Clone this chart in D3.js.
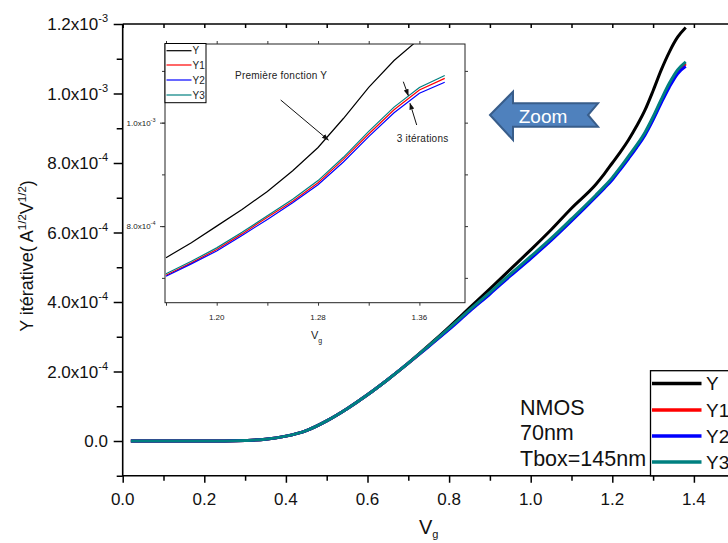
<!DOCTYPE html>
<html><head><meta charset="utf-8">
<script src="https://cdn.jsdelivr.net/npm/d3@7"></script>
<style>
body{margin:0;background:#fff}
svg{display:block}
text{font-family:"Liberation Sans",Arial,Helvetica,sans-serif}
</style>
</head><body>
<svg id="c" width="728" height="543"></svg>
<script>
// ---------- DATA ----------
const vg = [0.02,0.1,0.2,0.25,0.3,0.35,0.4,0.45,0.5,0.55,0.6,0.65,0.7,0.75,0.8,0.85,0.9,0.95,1.0,1.05,1.1,
            1.16,1.18,1.2,1.22,1.24,1.26,1.28,1.3,1.32,1.34,1.36,1.38];
const Y  = [0,0,0,2e-7,1.5e-6,5e-6,1.4e-5,3.0e-5,5.8e-5,9.3e-5,1.33e-4,1.77e-4,2.24e-4,2.75e-4,3.28e-4,3.83e-4,4.38e-4,4.94e-4,5.50e-4,6.08e-4,6.70e-4,
            7.39e-4,7.68e-4,8.00e-4,8.32e-4,8.67e-4,9.07e-4,9.52e-4,1.008e-3,1.068e-3,1.120e-3,1.162e-3,1.190e-3];
const Y1 = [0,0,0,2e-7,1.5e-6,5e-6,1.4e-5,3.0e-5,5.8e-5,9.3e-5,1.33e-4,1.77e-4,2.24e-4,2.73e-4,3.23e-4,3.75e-4,4.26e-4,4.78e-4,5.28e-4,5.80e-4,6.36e-4,
            7.05e-4,7.29e-4,7.55e-4,7.85e-4,8.17e-4,8.48e-4,8.84e-4,9.29e-4,9.78e-4,1.025e-3,1.063e-3,1.0855e-3];
const Y2 = [0,0,0,2e-7,1.5e-6,5e-6,1.4e-5,3.0e-5,5.8e-5,9.3e-5,1.33e-4,1.77e-4,2.24e-4,2.72e-4,3.21e-4,3.73e-4,4.23e-4,4.75e-4,5.25e-4,5.77e-4,6.33e-4,
            7.03e-4,7.27e-4,7.52e-4,7.82e-4,8.13e-4,8.45e-4,8.80e-4,9.24e-4,9.73e-4,1.019e-3,1.057e-3,1.078e-3];
const Y3 = [0,0,0,2e-7,1.5e-6,5e-6,1.4e-5,3.0e-5,5.8e-5,9.3e-5,1.33e-4,1.77e-4,2.24e-4,2.74e-4,3.25e-4,3.77e-4,4.28e-4,4.80e-4,5.31e-4,5.83e-4,6.39e-4,
            7.08e-4,7.32e-4,7.58e-4,7.88e-4,8.20e-4,8.52e-4,8.88e-4,9.33e-4,9.83e-4,1.030e-3,1.068e-3,1.091e-3];
const seriesNames = ["Y","Y1","Y2","Y3"];
const seriesColors = ["#000000","#ff0000","#0000ff","#008080"];

const xMajor = [0,0.2,0.4,0.6,0.8,1.0,1.2,1.4];
const xMinor = [0.1,0.3,0.5,0.7,0.9,1.1,1.3,1.5];
const xTickLabels = ["0.0","0.2","0.4","0.6","0.8","1.0","1.2","1.4"];
const yMajor = [0,2e-4,4e-4,6e-4,8e-4,1.0e-3,1.2e-3];
const yMinor = [-1e-4,1e-4,3e-4,5e-4,7e-4,9e-4,1.1e-3];
const yTickMant = ["0.0","2.0","4.0","6.0","8.0","1.0","1.2"];
const yTickExp  = ["","-4","-4","-4","-4","-3","-3"];

const insetXMajor = [1.20,1.28,1.36];
const insetXAll = [1.16,1.20,1.24,1.28,1.32,1.36];
const insetXLabels = ["1.20","1.28","1.36"];
const insetYMajor = [8e-4,1.0e-3];
const insetYAll = [7e-4,8e-4,9e-4,1.0e-3,1.1e-3];
const insetYMant = ["8.0","1.0"];
const insetYExp = ["-4","-3"];

const annoText = ["NMOS","70nm","Tbox=145nm"];

// ---------- SETUP ----------
const svg = d3.select("#c");
const series = [Y,Y1,Y2,Y3].map((vals,i)=>({name:seriesNames[i],color:seriesColors[i],
  pts:vg.map((v,j)=>[v,vals[j]])}));

const x = d3.scaleLinear().domain([0,1.5]).range([122.7,734.7]);
const y = d3.scaleLinear().domain([-1e-4,1.2e-3]).range([475.75,24]);

svg.append("clipPath").attr("id","mainclip").append("rect")
  .attr("x",x(0)).attr("y",y(1.2e-3)).attr("width",728).attr("height",y(-1e-4)-y(1.2e-3));

// main lines
const line = d3.line().x(d=>x(d[0])).y(d=>y(d[1])).curve(d3.curveMonotoneX);
const gl = svg.append("g").attr("clip-path","url(#mainclip)");
series.forEach(s=>{
  gl.append("path").attr("d",line(s.pts)).attr("fill","none")
    .attr("stroke",s.color).attr("stroke-width",3).attr("stroke-linejoin","round");
});

// axes
function styleAxis(g){ g.select(".domain").remove(); g.selectAll("line").attr("stroke","#000").attr("stroke-width",1.5); }
svg.append("g").attr("transform",`translate(${x(0)},0)`)
  .call(d3.axisLeft(y).tickValues(yMajor).tickSize(9).tickFormat("")).call(styleAxis);
svg.append("g").attr("transform",`translate(${x(0)},0)`)
  .call(d3.axisLeft(y).tickValues(yMinor).tickSize(6).tickFormat("")).call(styleAxis);
svg.append("g").attr("transform",`translate(0,${y(-1e-4)})`)
  .call(d3.axisBottom(x).tickValues(xMajor).tickSize(7).tickFormat("")).call(styleAxis);
svg.append("g").attr("transform",`translate(0,${y(-1e-4)})`)
  .call(d3.axisBottom(x).tickValues(xMinor).tickSize(5).tickFormat("")).call(styleAxis);
svg.append("g").attr("transform",`translate(0,${y(1.2e-3)})`)
  .call(d3.axisBottom(x).tickValues(xMajor.concat(xMinor)).tickSize(4).tickFormat("")).call(styleAxis);
// axis lines
svg.append("line").attr("x1",x(0)).attr("x2",x(0)).attr("y1",y(1.2e-3)).attr("y2",y(-1e-4)+0.75)
  .attr("stroke","#000").attr("stroke-width",1.6);
svg.append("line").attr("x1",x(0)).attr("x2",728).attr("y1",y(-1e-4)).attr("y2",y(-1e-4))
  .attr("stroke","#000").attr("stroke-width",1.6);
svg.append("line").attr("x1",x(0)).attr("x2",728).attr("y1",y(1.2e-3)).attr("y2",y(1.2e-3))
  .attr("stroke","#000").attr("stroke-width",1.6);

// tick labels
xMajor.forEach((v,i)=>{
  svg.append("text").attr("x",x(v)).attr("y",505).attr("text-anchor","middle")
    .attr("font-size",17).attr("fill","#111").text(xTickLabels[i]);
});
yMajor.forEach((v,i)=>{
  const t = svg.append("text").attr("x",108).attr("y",y(v)+6).attr("text-anchor","end")
    .attr("font-size",17).attr("fill","#111");
  if(yTickExp[i]===""){ t.text(yTickMant[i]); }
  else {
    t.append("tspan").text(yTickMant[i]+"x10");
    t.append("tspan").attr("dy",-8).attr("font-size",11).text(yTickExp[i]);
  }
});

// axis titles
const yt = svg.append("text").attr("transform","translate(33,256) rotate(-90)")
  .attr("text-anchor","middle").attr("font-size",18).attr("fill","#111");
yt.append("tspan").text("Y itérative( A");
yt.append("tspan").attr("dy",-7).attr("font-size",11.5).text("1/2");
yt.append("tspan").attr("dy",7).text("V");
yt.append("tspan").attr("dy",-7).attr("font-size",11.5).text("1/2");
yt.append("tspan").attr("dy",7).text(")");

const xt = svg.append("text").attr("x",419).attr("y",534).attr("font-size",20).attr("fill","#111");
xt.append("tspan").text("V");
xt.append("tspan").attr("dy",3.5).attr("font-size",11).text("g");

// annotation text
annoText.forEach((t,i)=>{
  svg.append("text").attr("x",520).attr("y",[414.5,440,465.5][i]).attr("font-size",21.5)
    .attr("fill","#111").text(t);
});

// main legend
svg.append("rect").attr("x",650.5).attr("y",370.7).attr("width",120).attr("height",y(-1e-4)-370.7)
  .attr("fill","#fff").attr("stroke","#000").attr("stroke-width",1.3);
const legY = [383.5,410,436,462];
series.forEach((s,i)=>{
  svg.append("line").attr("x1",652).attr("x2",701.5).attr("y1",legY[i]).attr("y2",legY[i])
    .attr("stroke",s.color).attr("stroke-width",3.5);
  svg.append("text").attr("x",706).attr("y",legY[i]+6.5).attr("font-size",19).attr("fill","#111").text(s.name);
});

// Zoom arrow
const arrowPts = [[490,115],[513,91.7],[513,103.3],[598,103.3],[588,115],[598,126.7],[513,126.7],[513,140]];
svg.append("polygon").attr("points",arrowPts.map(p=>p.join(",")).join(" "))
  .attr("fill","#4f81bd").attr("stroke","#385d8a").attr("stroke-width",2).attr("stroke-linejoin","miter");
svg.append("text").attr("x",543).attr("y",122.5).attr("text-anchor","middle").attr("font-size",19)
  .attr("fill","#fff").text("Zoom");

// ---------- INSET ----------
const ix = d3.scaleLinear().domain([1.1592,1.396]).range([165,465]);
const iy = d3.scaleLinear().domain([6.52e-4,1.152e-3]).range([302.7,44]);
const ig = svg.append("g");
ig.append("rect").attr("x",165).attr("y",44).attr("width",300).attr("height",258.7).attr("fill","#fff");
svg.append("clipPath").attr("id","insetclip").append("rect")
  .attr("x",165).attr("y",44).attr("width",300).attr("height",258.7);
const iline = d3.line().x(d=>ix(d[0])).y(d=>iy(d[1]));
const igl = ig.append("g").attr("clip-path","url(#insetclip)");
series.forEach(s=>{
  igl.append("path").attr("d",iline(s.pts.filter(p=>p[0]>=1.16))).attr("fill","none")
    .attr("stroke",s.color).attr("stroke-width",1.2);
});
ig.append("rect").attr("x",165).attr("y",44).attr("width",300).attr("height",258.7)
  .attr("fill","none").attr("stroke","#222").attr("stroke-width",1);
function styleI(g){ g.select(".domain").remove(); g.selectAll("line").attr("stroke","#333").attr("stroke-width",1); }
ig.append("g").attr("transform","translate(0,302.7)").call(d3.axisBottom(ix).tickValues(insetXAll).tickSize(3).tickFormat("")).call(styleI);
ig.append("g").attr("transform","translate(0,44)").call(d3.axisTop(ix).tickValues(insetXAll).tickSize(3).tickFormat("")).call(styleI);
ig.append("g").attr("transform","translate(165,0)").call(d3.axisLeft(iy).tickValues(insetYAll).tickSize(3).tickFormat("")).call(styleI);
ig.append("g").attr("transform","translate(165,0)").call(d3.axisLeft(iy).tickValues(insetYMajor).tickSize(5).tickFormat("")).call(styleI);
ig.append("g").attr("transform","translate(465,0)").call(d3.axisRight(iy).tickValues(insetYAll).tickSize(3).tickFormat("")).call(styleI);

insetXMajor.forEach((v,i)=>{
  ig.append("text").attr("x",ix(v)).attr("y",320).attr("text-anchor","middle").attr("font-size",8)
    .attr("fill","#222").text(insetXLabels[i]);
});
insetYMajor.forEach((v,i)=>{
  const t = ig.append("text").attr("x",155.5).attr("y",iy(v)+3).attr("text-anchor","end")
    .attr("font-size",8).attr("fill","#222");
  t.append("tspan").text(insetYMant[i]+"x10");
  t.append("tspan").attr("dy",-4).attr("font-size",5.5).text(insetYExp[i]);
});
const ixt = ig.append("text").attr("x",311).attr("y",338.5).attr("font-size",11).attr("fill","#222");
ixt.append("tspan").text("V");
ixt.append("tspan").attr("dy",4).attr("font-size",7).text("g");

// inset legend
ig.append("rect").attr("x",165).attr("y",43.5).attr("width",41).attr("height",59.2)
  .attr("fill","#fff").attr("stroke","#000").attr("stroke-width",1);
const iLegY = [50.7,65,80,95];
series.forEach((s,i)=>{
  ig.append("line").attr("x1",166.5).attr("x2",191.5).attr("y1",iLegY[i]).attr("y2",iLegY[i])
    .attr("stroke",s.color).attr("stroke-width",1.2);
  ig.append("text").attr("x",192.5).attr("y",iLegY[i]+3.6).attr("font-size",10).attr("fill","#222").text(s.name);
});

// inset annotations
const defs = svg.append("defs");
defs.append("marker").attr("id","ah").attr("viewBox","0 0 10 10").attr("refX",9).attr("refY",5)
  .attr("markerWidth",7).attr("markerHeight",7).attr("orient","auto-start-reverse")
  .append("path").attr("d","M0,1.5 L10,5 L0,8.5 Z").attr("fill","#111");
ig.append("text").attr("x",235).attr("y",78.5).attr("font-size",10).attr("fill","#222")
  .attr("textLength",92).text("Première fonction Y");
ig.append("line").attr("x1",280.7).attr("y1",100).attr("x2",328.3).attr("y2",140)
  .attr("stroke","#111").attr("stroke-width",1).attr("marker-end","url(#ah)");
ig.append("text").attr("x",396.7).attr("y",142).attr("font-size",10).attr("fill","#222")
  .attr("textLength",51.5).text("3 itérations");
ig.append("line").attr("x1",403.3).attr("y1",81.7).attr("x2",408.3).attr("y2",95.5)
  .attr("stroke","#111").attr("stroke-width",1).attr("marker-end","url(#ah)");
ig.append("line").attr("x1",416.7).attr("y1",125).attr("x2",410).attr("y2",103.3)
  .attr("stroke","#111").attr("stroke-width",1).attr("marker-end","url(#ah)");
</script>
</body></html>
